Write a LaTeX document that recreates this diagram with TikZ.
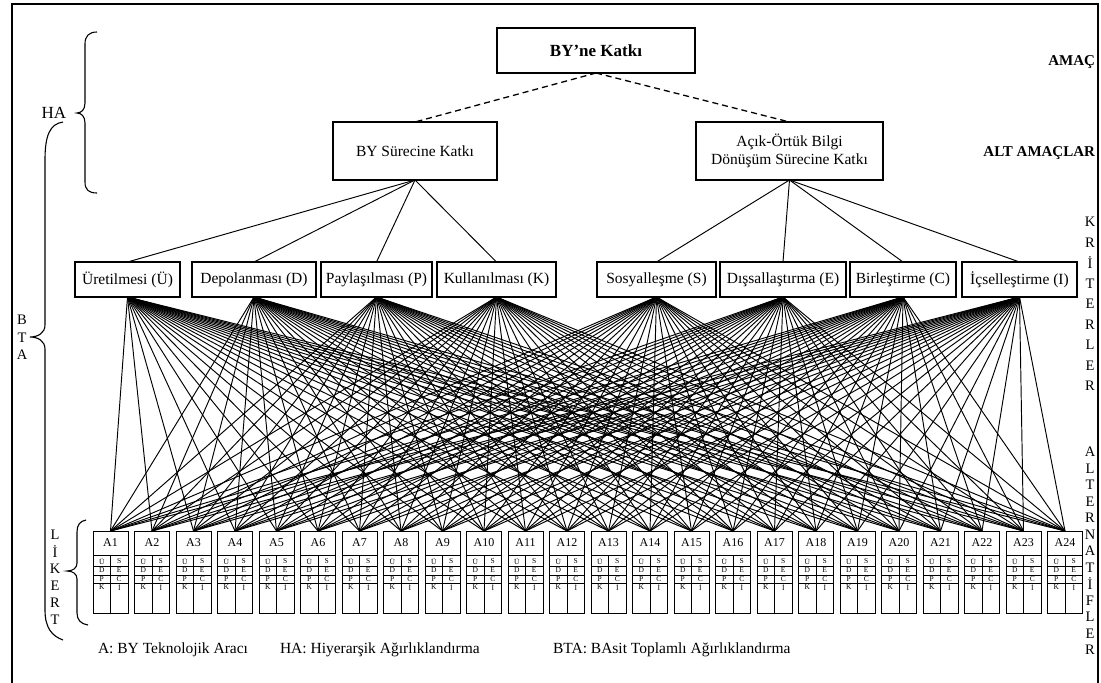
\documentclass[tikz,border=0pt]{standalone}
\usepackage{fontspec}
\setmainfont{Liberation Serif}
\newcommand\fsz[1]{\fontsize{#1}{#1}\selectfont}
\begin{document}
\begin{tikzpicture}[x=1pt,y=-1pt,
  every node/.style={inner sep=0pt, outer sep=0pt},
  box/.style={draw, line width=1.2pt, font=\fontsize{15.5}{17.5}\selectfont, align=center},
  crit/.style={box, minimum height=35pt},
  lbl/.style={font=\fsz{15}\bfseries, anchor=east},
  vlet/.style={font=\fsz{14.5}},
  link/.style={line width=0.95pt},
  dlink/.style={line width=1.3pt, dash pattern=on 6pt off 4pt},
  brace/.style={line width=1.1pt},
  altbox/.style={draw, line width=1pt, minimum width=35pt, minimum height=82pt},
  cell/.style={font=\fsz{7.5}},
  legend/.style={font=\fsz{15.5}, anchor=west}
]
\useasboundingbox (0,0) rectangle (1101,683);
\draw[line width=1.2pt] (12,683) -- (12,4) -- (1098,4) -- (1098,683);

% goal and subgoals
\node[box, font=\fsz{17}\bfseries, minimum width=198pt, minimum height=45pt] (goal) at (596,50.5) {BY’ne Katkı};
\node[box, minimum width=164pt, minimum height=58pt] (s1) at (415,151) {BY Sürecine Katkı};
\node[box, minimum width=187pt, minimum height=58pt] (s2) at (789.5,151) {Açık-Örtük Bilgi\\Dönüşüm Sürecine Katkı};
\draw[dlink] (goal.south) -- (s1.north);
\draw[dlink] (goal.south) -- (s2.north);

% criteria
\foreach \n/\cx/\w/\t in {c1/127.5/105/{Üretilmesi (Ü)}, c2/254/124/{Depolanması (D)}, c3/376.5/111/{Paylaşılması (P)}, c4/496.5/119/{Kullanılması (K)}, c5/656.5/119/{Sosyalleşme (S)}, c6/783/126/{Dışsallaştırma (E)}, c7/903/106/{Birleştirme (C)}, c8/1019.5/115/{İçselleştirme (I)}}
  \node[crit, minimum width=\w pt] (\n) at (\cx,279.5) {\t};
\foreach \c in {c1,c2,c3,c4} \draw[link] (s1.south) -- (\c.north);
\foreach \c in {c5,c6,c7,c8} \draw[link] (s2.south) -- (\c.north);

% alternatives
\foreach \j in {1,...,24}{
  \pgfmathsetmacro\xl{93+(\j-1)*41.5}
  \pgfmathsetmacro\xc{\xl+17.5}
  \pgfmathsetmacro\xa{\xl+8.75}
  \pgfmathsetmacro\xb{\xl+26.25}
  \node[altbox] (a\j) at (\xc,572) {};
  \node[font=\fsz{12}] at (\xc,543) {A\j};
  \draw[line width=1pt] (\xl,555) -- ++(35,0);
  \draw[line width=0.7pt] (\xl,566) -- ++(35,0) (\xl,575) -- ++(35,0) (\xl,583) -- ++(35,0);
  \draw[line width=0.7pt] (\xc,555) -- (\xc,613);
  \foreach \l/\r/\yy in {Ü/S/561, D/E/570.5, P/C/579, K/İ/587.5}{
    \node[cell] at (\xa,\yy) {\l};
    \node[cell] at (\xb,\yy) {\r};
  }
}
\foreach \i in {1,...,8}{\foreach \j in {1,...,24}{\draw[link] (c\i.south) -- (a\j.north);}}

% right labels
\node[lbl] (amac) at (1095,62) {AMAÇ};
\node[lbl] (altamac) at (1095,153) {ALT AMAÇLAR};
\foreach \ch [count=\k] in {K,R,İ,T,E,R,L,E,R}
  \node[vlet] at ({1090},{222+(\k-1)*20.5}) {\ch};
\foreach \ch [count=\k] in {A,L,T,E,R,N,A,T,İ,F,L,E,R}
  \node[vlet] at ({1090},{452+(\k-1)*16.5}) {\ch};

% left braces
\node[font=\fsz{17}] (ha) at (54,113) {HA};
\draw[brace] (97,32) .. controls (89,32) and (85,36) .. (85,44) -- (85,103) .. controls (85,110) and (81,113) .. (77,113) .. controls (81,113) and (85,116) .. (85,123) -- (85,182) .. controls (85,190) and (89,193) .. (97,193);
\draw[brace] (63,122) .. controls (50,124) and (45,135) .. (45,160) -- (45,325) .. controls (45,333) and (38,337) .. (30,337) .. controls (38,337) and (45,341) .. (45,349) -- (45,610) .. controls (45,628) and (52,636) .. (63,640);
\foreach \ch [count=\k] in {B,T,A}
  \node[vlet] at ({22},{320+(\k-1)*17.5}) {\ch};
\draw[brace] (86,520) .. controls (80,521) and (77,525) .. (77,532) -- (77,563) .. controls (77,568) and (73,571) .. (67,571) .. controls (73,571) and (77,574) .. (77,579) -- (77,613) .. controls (77,620) and (81,624) .. (88,625);
\foreach \ch [count=\k] in {L,İ,K,E,R,T}
  \node[vlet] at ({55},{535+(\k-1)*17}) {\ch};

% legend
\node[legend] (lg1) at (98,650) {A: BY Teknolojik Aracı};
\node[legend] (lg2) at (280,650) {HA: Hiyerarşik Ağırlıklandırma};
\node[legend] (lg3) at (553,650) {BTA: BAsit Toplamlı Ağırlıklandırma};
\end{tikzpicture}
\end{document}
